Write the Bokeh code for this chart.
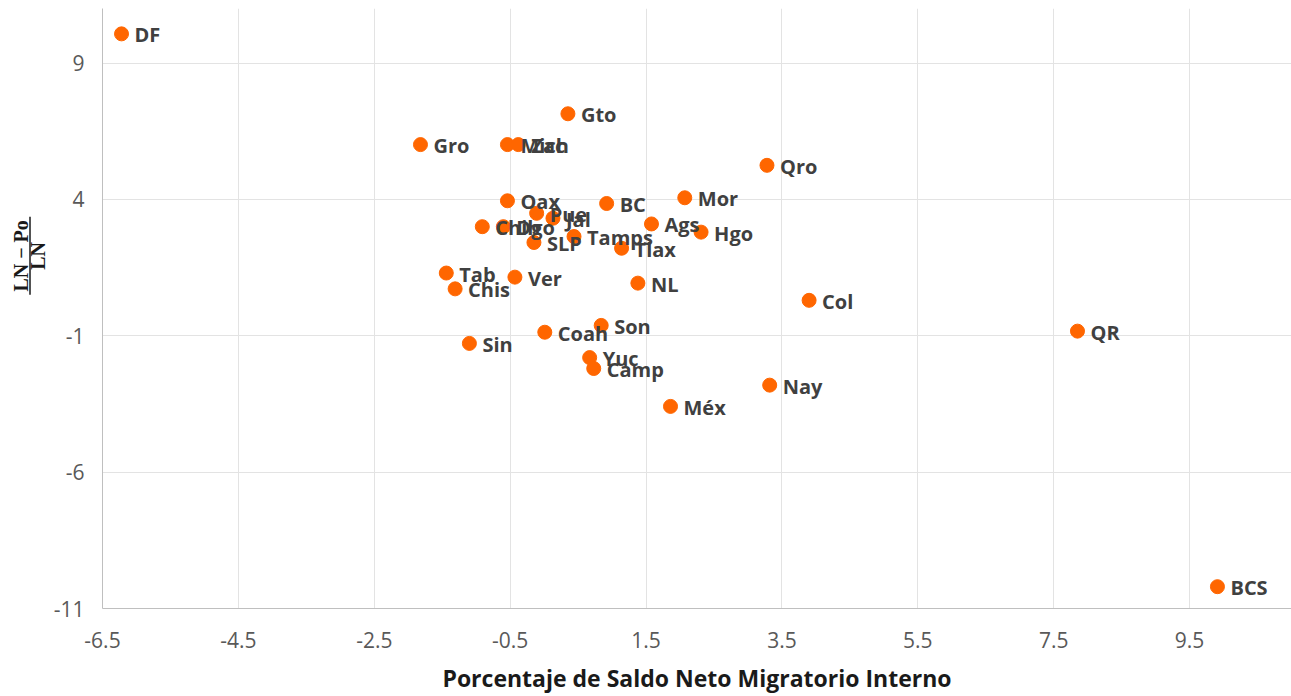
from math import pi
from bokeh.plotting import figure
from bokeh.layouts import row
from bokeh.models import ColumnDataSource, FixedTicker, Range1d, PrintfTickFormatter
from bokeh.core.properties import value
from bokeh.embed import file_html
from bokeh.resources import INLINE

states = ["DF", "Gto", "Gro", "Mich", "Zac", "Oax", "BC", "Pue", "Jal", "Chih", "Dgo",
          "SLP", "Tamps", "Tlax", "Qro", "Mor", "Ags", "Hgo", "NL", "Col", "Son", "Nay",
          "Méx", "Tab", "Chis", "Ver", "Coah", "Sin", "Yuc", "Camp", "QR", "BCS"]
saldo = [-6.22, 0.35, -1.82, -0.54, -0.38, -0.54, 0.92, -0.11, 0.13, -0.91, -0.60,
         -0.15, 0.44, 1.14, 3.28, 2.07, 1.58, 2.31, 1.38, 3.90, 0.84, 3.32,
         1.86, -1.44, -1.31, -0.43, 0.01, -1.10, 0.67, 0.73, 7.85, 9.91]
ratio = [10.07, 7.14, 6.01, 6.01, 6.01, 3.95, 3.85, 3.49, 3.31, 3.00, 3.00,
         2.42, 2.64, 2.21, 5.25, 4.06, 3.10, 2.80, 0.93, 0.30, -0.62, -2.81,
         -3.59, 1.30, 0.72, 1.15, -0.87, -1.28, -1.80, -2.20, -0.83, -10.20]
x_ticks = [-6.5, -4.5, -2.5, -0.5, 1.5, 3.5, 5.5, 7.5, 9.5]
y_ticks = [-11, -6, -1, 4, 9]
x_title = "Porcentaje de Saldo Neto Migratorio Interno"
y_num = ["LN \u2212 Po"]
y_den = ["LN"]

H = 696
BT, BB = 8, 86
LW = 50

source = ColumnDataSource(dict(x=saldo, y=ratio, name=states))
y_range = Range1d(-11, 11)

p = figure(width=1291 - LW, height=H, output_backend="svg", toolbar_location=None,
           x_range=Range1d(-6.5, 11.0), y_range=y_range,
           min_border_left=101 - LW, min_border_top=BT, min_border_right=0,
           min_border_bottom=BB)
p.outline_line_color = None

p.scatter("x", "y", source=source, size=14, fill_color="#FF6600", line_color="#FF6600")
p.text("x", "y", text="name", source=source, x_offset=13, y_offset=1,
       text_baseline="middle", text_align="left",
       text_font=value("Open Sans"), text_font_style="bold", text_font_size="20px",
       text_color="#404040")

for ax in (p.xaxis[0], p.yaxis[0]):
    ax.axis_line_color = "#BFBFBF"
    ax.axis_line_width = 1
    ax.major_tick_line_color = None
    ax.minor_tick_line_color = None
    ax.major_tick_out = 0
    ax.major_tick_in = 0
    ax.major_label_text_font = "Open Sans"
    ax.major_label_text_font_size = "21px"
    ax.major_label_text_color = "#595959"

p.xaxis.ticker = FixedTicker(ticks=x_ticks)
p.yaxis.ticker = FixedTicker(ticks=y_ticks)
p.xaxis.formatter = PrintfTickFormatter(format="%.1f")
p.yaxis.formatter = PrintfTickFormatter(format="%d")
p.xaxis.major_label_standoff = 23
p.yaxis.major_label_standoff = 18
p.xaxis.axis_label = x_title
p.xaxis.axis_label_text_font = "Open Sans"
p.xaxis.axis_label_text_font_style = "bold"
p.xaxis.axis_label_text_font_size = "23px"
p.xaxis.axis_label_text_color = "#1a1a1a"
p.xaxis.axis_label_standoff = 11

p.xgrid.grid_line_color = "#E3E3E3"
p.ygrid.grid_line_color = "#E3E3E3"

# left strip holding the rotated fraction used as y-axis title
q = figure(width=LW, height=H, output_backend="svg", toolbar_location=None,
           x_range=Range1d(0, LW), y_range=y_range,
           min_border_left=0, min_border_right=0, min_border_top=BT, min_border_bottom=BB)
q.axis.visible = False
q.grid.visible = False
q.outline_line_color = None

yc = 1.93
q.text(x=[20], y=[yc], text=y_num, angle=pi / 2, text_align="center",
       text_baseline="middle", text_font=value("Liberation Serif"),
       text_font_style="bold", text_font_size="20px", text_color="#1a1a1a")
q.text(x=[37.5], y=[yc], text=y_den, angle=pi / 2, text_align="center",
       text_baseline="middle", text_font=value("Liberation Serif"),
       text_font_style="bold", text_font_size="20px", text_color="#1a1a1a")
q.segment(x0=[29.5], y0=[0.5], x1=[29.5], y1=[3.36], line_color="#1a1a1a", line_width=1.5)

layout = row(q, p)
open("out.html", "w").write(file_html(layout, INLINE))
